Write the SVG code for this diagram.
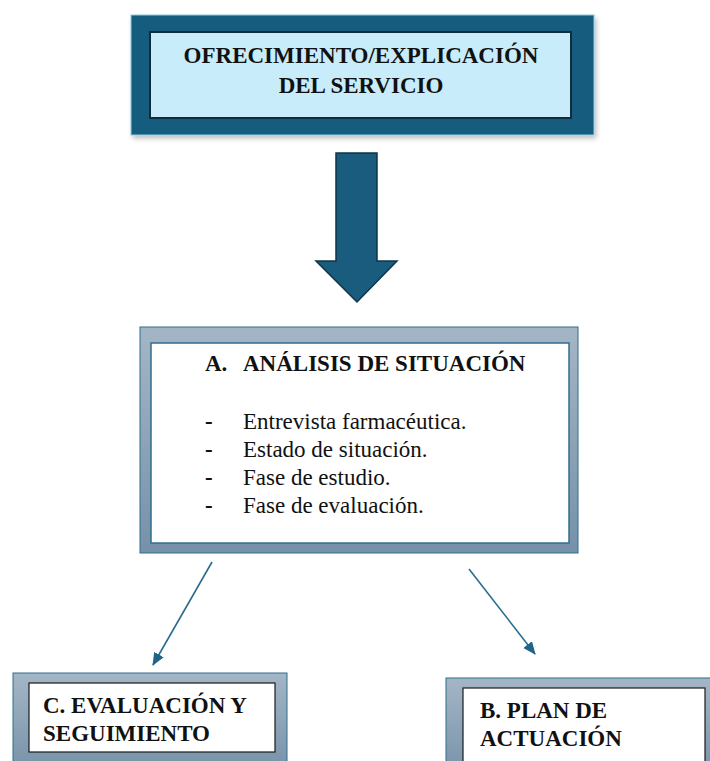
<svg xmlns="http://www.w3.org/2000/svg" width="710" height="761" viewBox="0 0 710 761">
<defs>
<linearGradient id="frameGrad" x1="0" y1="0" x2="0" y2="1">
<stop offset="0" stop-color="#a4b6c6"/>
<stop offset="1" stop-color="#7691a8"/>
</linearGradient>
<filter id="shadow" x="-5%" y="-10%" width="112%" height="125%">
<feGaussianBlur in="SourceAlpha" stdDeviation="2.5"/>
<feOffset dx="2" dy="3"/>
<feComponentTransfer><feFuncA type="linear" slope="0.25"/></feComponentTransfer>
<feMerge><feMergeNode/><feMergeNode in="SourceGraphic"/></feMerge>
</filter>
<marker id="arrowhead" markerWidth="13" markerHeight="12" refX="12" refY="6" orient="auto" markerUnits="userSpaceOnUse">
<path d="M0,0.5 L13,6 L0,11.5 z" fill="#1f6587"/>
</marker>
</defs>
<style>
.frame { fill: url(#frameGrad); stroke: #2f6e8d; stroke-width: 1; }
.inner { fill: #ffffff; stroke: #1a1a1a; stroke-width: 1.2; }
.bold { font-family: "Liberation Serif", "Times New Roman", serif; font-weight: bold; fill: #111111; font-size: 23px; }
.body { font-family: "Liberation Serif", "Times New Roman", serif; fill: #111111; font-size: 23px; }
.dash { font-family: "Liberation Serif", "Times New Roman", serif; font-weight: bold; fill: #111111; font-size: 23px; }
.conn { stroke: #2a6d8e; stroke-width: 1.6; fill: none; }
</style>
<rect width="710" height="761" fill="#ffffff"/>

<g id="node-ofrecimiento">
<rect x="131" y="15" width="463" height="120" fill="#195c7e" stroke="#8fc9e3" stroke-width="1" filter="url(#shadow)"/>
<rect x="150" y="32" width="421" height="86" fill="#c9ecfb" stroke="#0f2d3d" stroke-width="2"/>
<text class="bold" text-anchor="middle" x="361" y="63">OFRECIMIENTO/EXPLICACIÓN</text>
<text class="bold" text-anchor="middle" x="361" y="93">DEL SERVICIO</text>
</g>

<g id="node-arrow-down">
<path d="M336,153 L377,153 L377,261 L397,261 L357,302 L316,261 L336,261 Z" fill="#195c7e" stroke="#0f3448" stroke-width="1.5" stroke-linejoin="miter"/>
</g>

<g id="node-analisis">
<rect class="frame" x="140" y="327" width="438" height="226"/>
<rect x="151" y="343" width="418" height="200" fill="#ffffff" stroke="#2f6e8d" stroke-width="1.5"/>
<text class="bold" x="205" y="371">A.</text>
<text class="bold" x="243" y="371">ANÁLISIS DE SITUACIÓN</text>
<text class="dash" x="205" y="429">-</text>
<text class="body" x="243" y="429">Entrevista farmacéutica.</text>
<text class="dash" x="205" y="457">-</text>
<text class="body" x="243" y="457">Estado de situación.</text>
<text class="dash" x="205" y="485">-</text>
<text class="body" x="243" y="485">Fase de estudio.</text>
<text class="dash" x="205" y="513">-</text>
<text class="body" x="243" y="513">Fase de evaluación.</text>
</g>

<g id="node-evaluacion">
<rect class="frame" x="13" y="673" width="274" height="100"/>
<rect class="inner" x="29" y="683" width="246" height="69"/>
<text class="bold" x="43" y="713">C. EVALUACIÓN Y</text>
<text class="bold" x="43" y="741">SEGUIMIENTO</text>
</g>

<g id="node-plan">
<rect class="frame" x="446" y="678" width="280" height="100"/>
<rect class="inner" x="463" y="688" width="242" height="90"/>
<text class="bold" x="480" y="718">B. PLAN DE</text>
<text class="bold" x="480" y="746">ACTUACIÓN</text>
</g>

<g id="connectors">
<line class="conn" x1="212" y1="562" x2="153" y2="665" marker-end="url(#arrowhead)"/>
<line class="conn" x1="469" y1="569" x2="535" y2="654" marker-end="url(#arrowhead)"/>
</g>
</svg>
